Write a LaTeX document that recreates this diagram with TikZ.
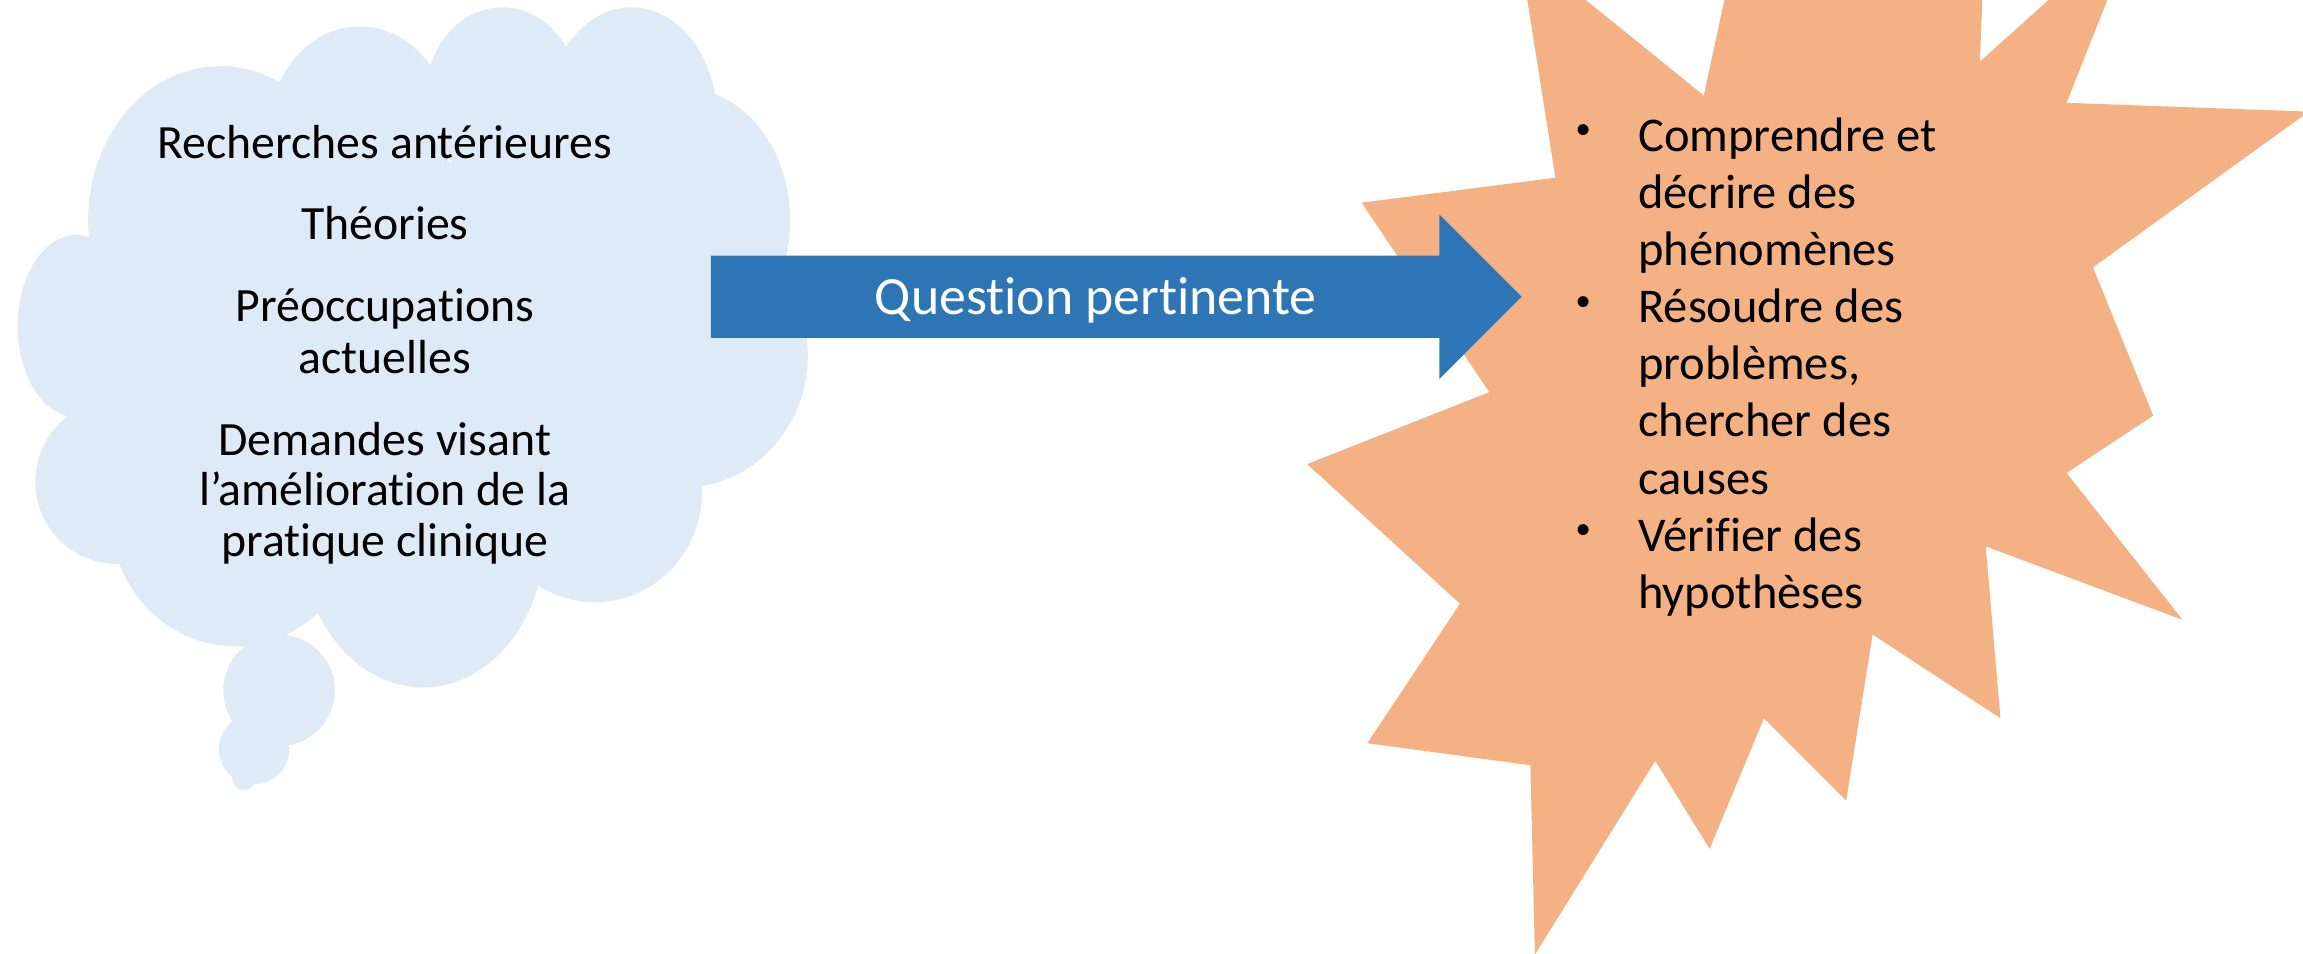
\documentclass[tikz,border=0pt]{standalone}
\usepackage{fontspec}
\setmainfont{Carlito}[Ligatures=NoCommon]
\newfontfamily\bulletfont{Liberation Sans}
\definecolor{cloudblue}{HTML}{DEEBF7}
\definecolor{arrowblue}{HTML}{2E75B6}
\definecolor{starorange}{HTML}{F4B183}
\tikzset{
  cloudtxt/.style={anchor=base, inner sep=0pt, font=\fontsize{13.6}{16}\selectfont, text=black},
  startxt/.style={anchor=base west, inner sep=0pt, font=\fontsize{13.8}{16.4}\selectfont, text=black},
  bullettxt/.style={anchor=center, inner sep=0pt, font=\bulletfont\fontsize{11.5}{13}\selectfont, text=black},
  arrowtxt/.style={anchor=base, inner sep=0pt, font=\fontsize{15.3}{18}\selectfont, text=white},
}
\begin{document}
\begin{tikzpicture}[x=0.014688cm,y=-0.014688cm]
\useasboundingbox (0,0) rectangle (1568,649);
\begin{scope}
\clip (0,0) rectangle (1568,649);
% star
\fill[starorange] (1059,121) -- (1034,-37) -- (1160,65) -- (1187,-60) -- (1265,-20)
  -- (1352,-60) -- (1348,42) -- (1457,-56) -- (1407,70) -- (1572,76)
  -- (1425,182) -- (1466,283) -- (1407,322) -- (1486,422) -- (1352,372)
  -- (1362,489) -- (1275,432) -- (1257,545) -- (1201,489) -- (1164,578)
  -- (1127,518) -- (1045,650) -- (1042,521) -- (931,506) -- (994,411)
  -- (890,316) -- (1014,267) -- (927,138) -- cycle;
% cloud
\foreach \cx/\cy/\rx/\ry in {52/222/40/62, 80/328/56/56, 150/150/90/105, 245/90/62/72,
  342/65/52/60, 430/80/58/75, 465/150/73/90, 465/242/85/90, 405/335/73/75,
  288/365/83/103, 160/350/85/90}
  \fill[cloudblue] (\cx,\cy) ellipse [x radius=\rx, y radius=\ry];
\fill[cloudblue] (90,110) rectangle (460,370);
\fill[cloudblue] (60,162) rectangle (200,330);
\fill[cloudblue] (190,470) circle [radius=38];
\fill[cloudblue] (173,510) circle [radius=24];
\fill[cloudblue] (166,530) circle [radius=8];
\end{scope}
% arrow
\fill[arrowblue] (484,174) -- (980,174) -- (980,146) -- (1036,202) -- (980,258)
  -- (980,230) -- (484,230) -- cycle;
\node[arrowtxt] (q) at (746,214) {Question pertinente};
% cloud text
\node[cloudtxt] (c1) at (262,108) {Recherches antérieures};
\node[cloudtxt] (c2) at (262,163) {Théories};
\node[cloudtxt] (c3) at (262,219) {Préoccupations};
\node[cloudtxt] (c4) at (262,254) {actuelles};
\node[cloudtxt] (c5) at (262,310) {Demandes visant};
\node[cloudtxt] (c6) at (262,344) {l’amélioration de la};
\node[cloudtxt] (c7) at (262,379) {pratique clinique};
% star text
\foreach \i/\t in {0/Comprendre et, 1/décrire des, 2/phénomènes, 3/Résoudre des,
  4/{problèmes,}, 5/chercher des, 6/causes, 7/Vérifier des, 8/hypothèses}
  \node[startxt] (s\i) at (1115,103+38.9*\i) {\t};
\foreach \i in {0,3,7}
  \node[bullettxt] (b\i) at (1078.5,91.5+38.9*\i) {•};
\end{tikzpicture}
\end{document}
